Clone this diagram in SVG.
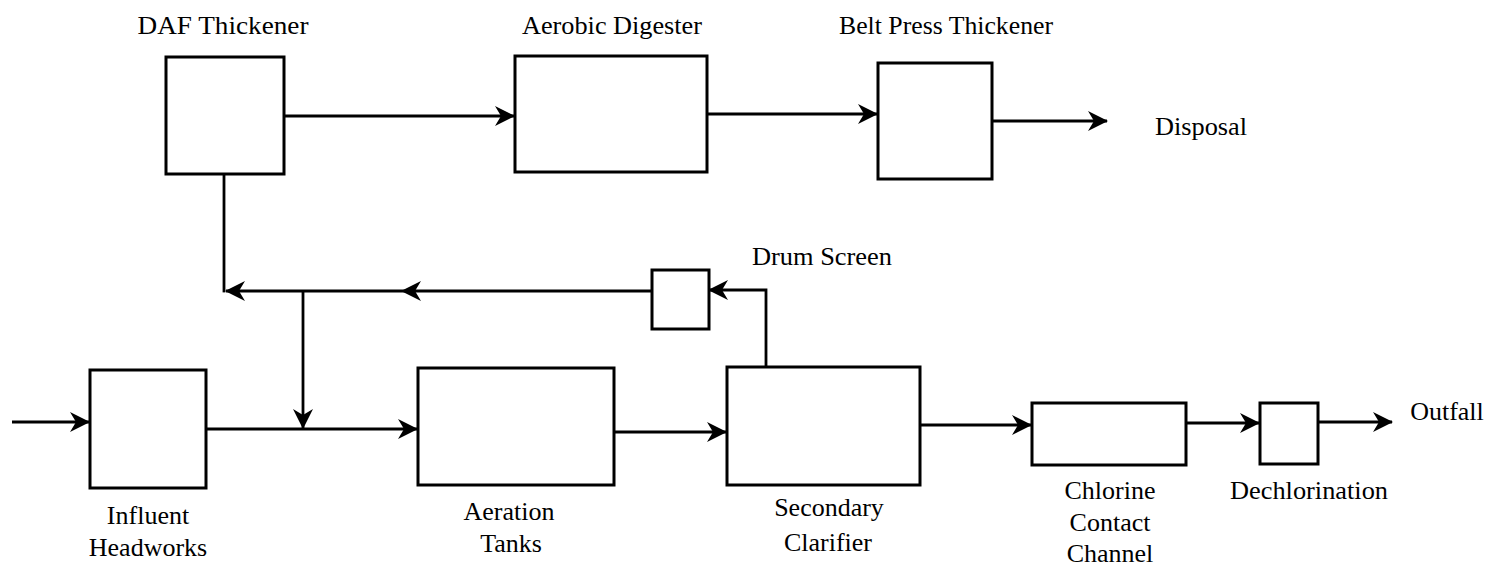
<svg xmlns="http://www.w3.org/2000/svg" width="1495" height="571" viewBox="0 0 1495 571">
<style>
.box{fill:#fff;stroke:#000;stroke-width:3}
.ln{fill:none;stroke:#000;stroke-width:2.8}
.lbl{font-family:"Liberation Serif","Times New Roman",serif;font-size:26px;fill:#000;text-anchor:middle}
</style>
<defs>
<marker id="arr" viewBox="0 0 20 20" refX="19" refY="10" markerWidth="20" markerHeight="20" markerUnits="userSpaceOnUse" orient="auto">
<path d="M0,0 L20,10 L0,20 L6,10 z" fill="#000"/>
</marker>
</defs>
<rect width="1495" height="571" fill="#fff"/>
<g id="connectors">
<line class="ln" x1="284" y1="116" x2="514" y2="116" marker-end="url(#arr)"/>
<line class="ln" x1="707" y1="114" x2="877" y2="114" marker-end="url(#arr)"/>
<line class="ln" x1="992" y1="121" x2="1107" y2="121" marker-end="url(#arr)"/>
<line class="ln" x1="224" y1="174" x2="224" y2="292.4"/>
<line class="ln" x1="652" y1="291" x2="402" y2="291" marker-end="url(#arr)"/>
<line class="ln" x1="402" y1="291" x2="226" y2="291" marker-end="url(#arr)"/>
<polyline class="ln" points="766,367 766,290 709,290" marker-end="url(#arr)"/>
<line class="ln" x1="303" y1="291" x2="303" y2="428" marker-end="url(#arr)"/>
<line class="ln" x1="12" y1="422" x2="89" y2="422" marker-end="url(#arr)"/>
<line class="ln" x1="206" y1="429" x2="417" y2="429" marker-end="url(#arr)"/>
<line class="ln" x1="614" y1="432" x2="726" y2="432" marker-end="url(#arr)"/>
<line class="ln" x1="920" y1="425" x2="1031" y2="425" marker-end="url(#arr)"/>
<line class="ln" x1="1186" y1="423" x2="1259" y2="423" marker-end="url(#arr)"/>
<line class="ln" x1="1318" y1="422" x2="1392" y2="422" marker-end="url(#arr)"/>
</g>
<g id="daf"><rect class="box" x="166" y="57" width="118" height="117"/><text class="lbl" x="223" y="34" textLength="171" lengthAdjust="spacingAndGlyphs">DAF Thickener</text></g>
<g id="aerobic"><rect class="box" x="515" y="56" width="192" height="116"/><text class="lbl" x="612" y="34" textLength="180" lengthAdjust="spacingAndGlyphs">Aerobic Digester</text></g>
<g id="beltpress"><rect class="box" x="878" y="63" width="114" height="116"/><text class="lbl" x="946" y="34" textLength="214" lengthAdjust="spacingAndGlyphs">Belt Press Thickener</text></g>
<g id="disposal"><text class="lbl" x="1201" y="135" textLength="92" lengthAdjust="spacingAndGlyphs">Disposal</text></g>
<g id="drum"><rect class="box" x="652" y="270" width="57" height="59"/><text class="lbl" x="822" y="265" textLength="140" lengthAdjust="spacingAndGlyphs">Drum Screen</text></g>
<g id="headworks"><rect class="box" x="90" y="370" width="116" height="118"/><text class="lbl" x="148" y="524">Influent</text><text class="lbl" x="148" y="556">Headworks</text></g>
<g id="aeration"><rect class="box" x="418" y="368" width="196" height="117"/><text class="lbl" x="509" y="520">Aeration</text><text class="lbl" x="511" y="552">Tanks</text></g>
<g id="clarifier"><rect class="box" x="727" y="367" width="193" height="118"/><text class="lbl" x="829" y="516">Secondary</text><text class="lbl" x="828" y="551">Clarifier</text></g>
<g id="chlorine"><rect class="box" x="1032" y="403" width="154" height="62"/><text class="lbl" x="1110" y="499">Chlorine</text><text class="lbl" x="1110" y="531">Contact</text><text class="lbl" x="1110" y="562">Channel</text></g>
<g id="dechlor"><rect class="box" x="1260" y="403" width="58" height="61"/><text class="lbl" x="1309" y="499" textLength="158" lengthAdjust="spacingAndGlyphs">Dechlorination</text></g>
<g id="outfall"><text class="lbl" x="1447" y="420">Outfall</text></g>
</svg>
